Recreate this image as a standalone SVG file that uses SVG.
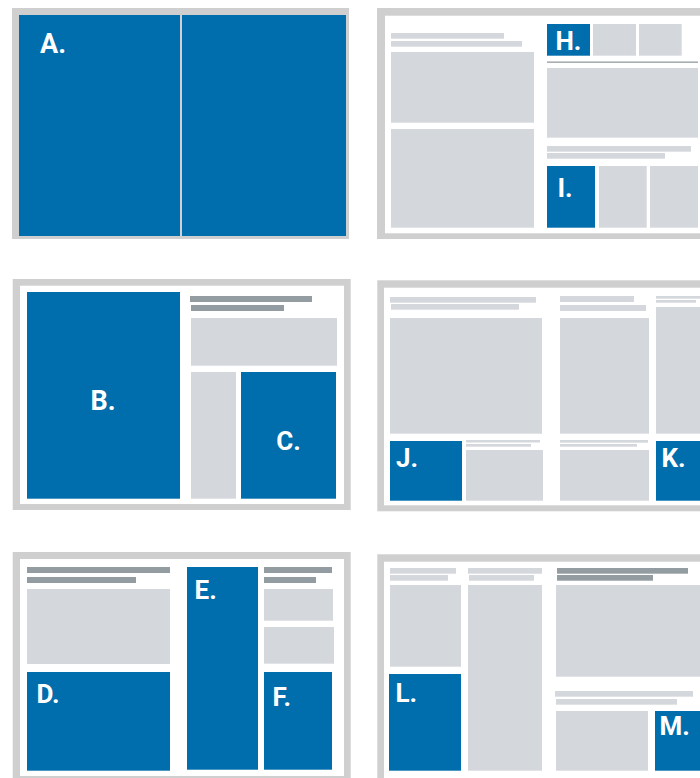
<svg xmlns="http://www.w3.org/2000/svg" width="700" height="778" viewBox="0 0 700 778">
<style>
.frame{fill:#cfcfcf}
.page{fill:#ffffff}
.blue{fill:#006dac}
.lt{fill:#d4d8dc}
.dk{fill:#939ca1}
.lbl{font-family:Roboto,"Liberation Sans",sans-serif;font-weight:700;font-size:26px;fill:#ffffff}
</style>
<rect width="700" height="778" fill="#ffffff"/>

<g id="panel-a">
<rect class="frame" x="12" y="8" width="337" height="231"/>
<rect class="blue" x="19" y="15" width="327" height="221"/>
<rect x="180" y="15" width="2" height="221" fill="#d0d0d0"/>
<text class="lbl" x="40" y="53" style="font-size:27px">A.</text>
</g>

<g id="panel-hi">
<rect class="frame" x="377" y="8" width="330" height="231"/>
<rect class="page" x="385" y="15.7" width="320" height="217.6"/>
<rect class="lt" x="391" y="33" width="113" height="5.7"/>
<rect class="lt" x="391" y="41" width="131" height="5.7"/>
<rect class="lt" x="391" y="52" width="143" height="70.7"/>
<rect class="lt" x="391" y="129" width="143" height="98.7"/>
<g id="node-h">
<rect class="blue" x="547" y="24" width="43" height="31.7"/>
<text class="lbl" x="555.5" y="50">H.</text>
</g>
<rect class="lt" x="593" y="24" width="43" height="31.7"/>
<rect class="lt" x="639" y="24" width="42.7" height="31.7"/>
<rect class="dk" x="547" y="61.5" width="151" height="1.3"/>
<rect class="lt" x="547" y="68" width="151" height="69.7"/>
<rect class="lt" x="547" y="146" width="144" height="5.7"/>
<rect class="lt" x="547" y="153" width="118" height="5.7"/>
<g id="node-i">
<rect class="blue" x="547" y="166" width="48" height="61.7"/>
<text class="lbl" x="557.5" y="196.7">I.</text>
</g>
<rect class="lt" x="599" y="166" width="47.7" height="61.7"/>
<rect class="lt" x="650" y="166" width="48" height="61.7"/>
</g>

<g id="panel-bc">
<rect class="frame" x="12.7" y="279" width="338" height="231"/>
<rect class="page" x="20" y="285.7" width="324" height="218.3"/>
<g id="node-b">
<rect class="blue" x="27" y="292" width="153" height="206.7"/>
<text class="lbl" x="103" y="410" text-anchor="middle" style="font-size:27px">B.</text>
</g>
<rect class="dk" x="190" y="296" width="122" height="6"/>
<rect class="dk" x="191" y="305" width="93" height="6"/>
<rect class="lt" x="191" y="318" width="146" height="47.7"/>
<rect class="lt" x="191" y="372" width="45" height="126.7"/>
<g id="node-c">
<rect class="blue" x="241" y="372" width="95" height="126.7"/>
<text class="lbl" x="288.5" y="450" text-anchor="middle">C.</text>
</g>
</g>

<g id="panel-jk">
<rect class="frame" x="377.3" y="280.3" width="330" height="231"/>
<rect class="page" x="384" y="287.7" width="320" height="217.6"/>
<rect class="lt" x="390" y="297" width="146" height="5.7"/>
<rect class="lt" x="391" y="304" width="128" height="5.7"/>
<rect class="lt" x="390" y="318" width="152" height="115.7"/>
<g id="node-j">
<rect class="blue" x="390" y="441" width="72" height="59.7"/>
<text class="lbl" x="396" y="466.7">J.</text>
</g>
<rect class="lt" x="466" y="440" width="74" height="2.5"/>
<rect class="lt" x="466" y="444" width="65" height="2.7"/>
<rect class="lt" x="466" y="450" width="77" height="50.7"/>
<rect class="lt" x="560" y="296" width="74" height="6"/>
<rect class="lt" x="560" y="305" width="86" height="6"/>
<rect class="lt" x="560" y="318" width="89" height="115.7"/>
<rect class="lt" x="560" y="440" width="88" height="2.7"/>
<rect class="lt" x="560" y="444" width="77" height="2.7"/>
<rect class="lt" x="560" y="450" width="89" height="50.7"/>
<rect class="lt" x="656" y="296" width="44" height="2.7"/>
<rect class="lt" x="656" y="300" width="40" height="2.7"/>
<rect class="lt" x="656" y="307" width="44" height="126.7"/>
<g id="node-k">
<rect class="blue" x="656" y="441" width="44" height="59.7"/>
<text class="lbl" x="661.5" y="466.7">K.</text>
</g>
</g>

<g id="panel-def">
<rect class="frame" x="12.7" y="552" width="338" height="230"/>
<rect class="page" x="20" y="559" width="324" height="217"/>
<rect class="dk" x="27" y="567" width="143" height="6"/>
<rect class="dk" x="27" y="577" width="109" height="6"/>
<rect class="lt" x="27" y="589" width="143" height="75"/>
<g id="node-d">
<rect class="blue" x="27" y="672" width="143" height="98.7"/>
<text class="lbl" x="36.5" y="703.3">D.</text>
</g>
<g id="node-e">
<rect class="blue" x="187" y="567" width="71" height="202.7"/>
<text class="lbl" x="194.5" y="599.3">E.</text>
</g>
<rect class="dk" x="264" y="567" width="68" height="6"/>
<rect class="dk" x="264" y="577" width="52" height="6"/>
<rect class="lt" x="264" y="589" width="69" height="31.7"/>
<rect class="lt" x="264" y="627" width="70" height="36.7"/>
<g id="node-f">
<rect class="blue" x="264" y="672" width="68" height="97.7"/>
<text class="lbl" x="272.5" y="706">F.</text>
</g>
</g>

<g id="panel-lm">
<rect class="frame" x="377.3" y="554.3" width="330" height="230"/>
<rect class="page" x="384" y="561.7" width="320" height="220"/>
<rect class="lt" x="390" y="568" width="66" height="5.7"/>
<rect class="lt" x="390" y="575" width="58" height="5.7"/>
<rect class="lt" x="390" y="585" width="71" height="81.7"/>
<g id="node-l">
<rect class="blue" x="389" y="674" width="72" height="96.7"/>
<text class="lbl" x="395.5" y="702">L.</text>
</g>
<rect class="lt" x="468" y="568" width="74" height="5.7"/>
<rect class="lt" x="469" y="575" width="65" height="5.7"/>
<rect class="lt" x="468" y="585" width="74" height="185.7"/>
<rect class="dk" x="557" y="568" width="131" height="5.7"/>
<rect class="dk" x="557" y="575" width="96" height="5.7"/>
<rect class="lt" x="556" y="585" width="144" height="91.7"/>
<rect class="lt" x="555" y="691" width="138" height="5.7"/>
<rect class="lt" x="556" y="699" width="121" height="5.7"/>
<rect class="lt" x="556" y="711" width="92" height="59.7"/>
<g id="node-m">
<rect class="blue" x="655" y="711" width="45" height="59.7"/>
<text class="lbl" x="659.5" y="735">M.</text>
</g>
</g>

<g id="connectors"/>
</svg>
